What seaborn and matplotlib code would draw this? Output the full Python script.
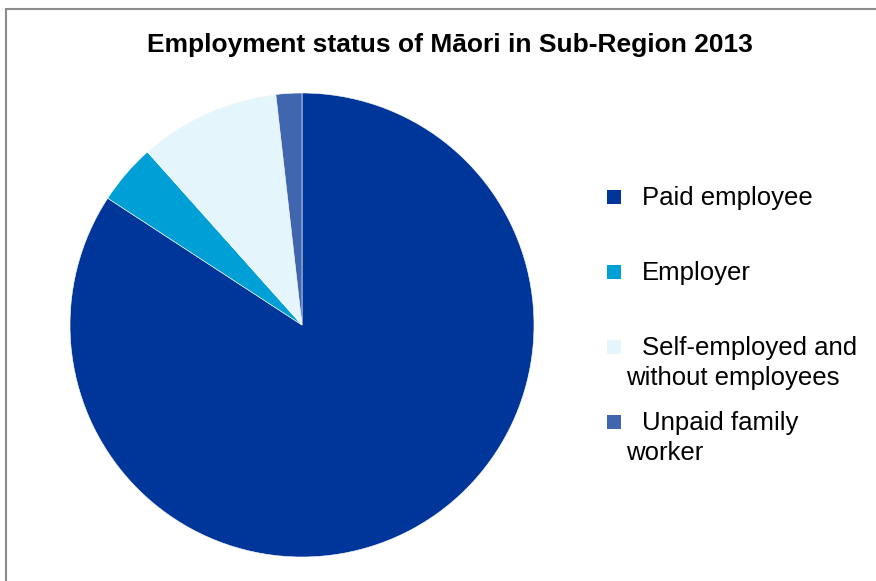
import matplotlib
matplotlib.use("Agg")
import matplotlib.pyplot as plt
import seaborn as sns
from matplotlib.patches import Rectangle

# Employment status shares (%)
categories = ["Paid employee", "Employer", "Self-employed and without employees", "Unpaid family worker"]
shares = [84.2, 4.2, 9.8, 1.8]
colors = ["#003699", "#00A0D6", "#E5F5FC", "#4066B0"]

# legend text: first line next to marker, second line wrapped under
legend_lines = [
    ["Paid employee"],
    ["Employer"],
    ["Self-employed and", "without employees"],
    ["Unpaid family", "worker"],
]

sns.set_theme(style="white")
plt.rcParams["font.family"] = ["Liberation Sans", "DejaVu Sans"]

W, H = 876, 581
fig = plt.figure(figsize=(W / 100, H / 100), dpi=100)
fig.patch.set_facecolor("white")

# outer chart frame (left and top visible)
fig.add_artist(Rectangle((6 / W, -0.1), 1.2, (H - 9) / H + 0.1, transform=fig.transFigure,
                         fill=False, edgecolor="#8c8c8c", linewidth=1.5))

# pie axes placed in pixels
ax = fig.add_axes([70 / W, (H - 557) / H, 464 / W, 464 / H])
ax.pie(shares, colors=colors, startangle=90, counterclock=False,
       wedgeprops=dict(edgecolor="white", linewidth=0.4))
ax.set_xlim(-1, 1)
ax.set_ylim(-1, 1)
ax.set_aspect("equal")
ax.axis("off")

fig.text(450 / W, 1 - 45 / H, "Employment status of Māori in Sub-Region 2013",
         ha="center", va="center", fontsize=19, fontweight="bold", color="black")

# manual legend, Excel style
marker_y = [197, 272, 347, 422]
for lines, color, y in zip(legend_lines, colors, marker_y):
    fig.add_artist(Rectangle((607 / W, 1 - (y + 7) / H), 14 / W, 14 / H,
                             transform=fig.transFigure, facecolor=color, edgecolor="none"))
    fig.text(642 / W, 1 - (y + 1) / H, lines[0], ha="left", va="center", fontsize=18.5, color="black")
    if len(lines) > 1:
        fig.text(626 / W, 1 - (y + 31) / H, lines[1], ha="left", va="center", fontsize=18.5, color="black")

fig.savefig("out.png", dpi=100, facecolor="white")
